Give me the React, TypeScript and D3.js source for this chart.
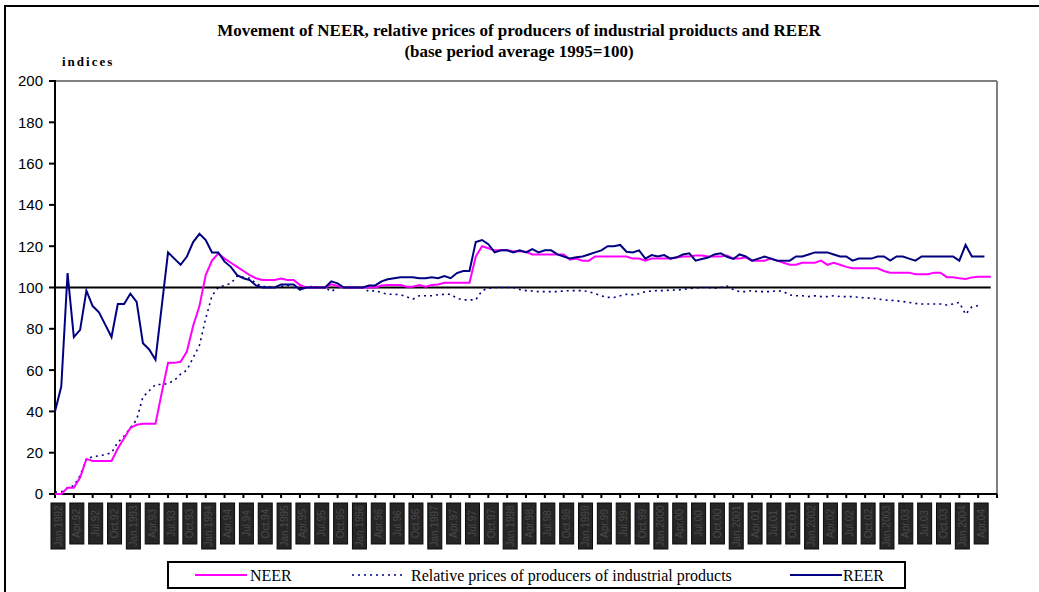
import React from 'react';
import * as d3 from 'd3';

// monthly data, Jan 1992 onwards (1995 average = 100)
const neer = [
  0, 0, 3, 3, 8, 17, 16, 16, 16, 16,
  22, 27, 32, 33.5, 34, 34, 34, 49, 63.5, 63.5,
  64, 69, 81.5, 91, 106, 113, 116.5, 114, 112, 110,
  108, 106, 104.5, 103.6, 103.6, 103.6, 104.4, 103.6, 103.6, 101.2,
  100, 100, 100, 100, 101.5, 100.7, 100, 100, 100, 100,
  100, 100, 101, 101.2, 101.2, 101.2, 100.4, 100.4, 101.2, 100.4,
  101.2, 101.5, 102.3, 102.3, 102.3, 102.3, 102.3, 115, 120, 119,
  118, 118, 118, 117.5, 117.5, 117.3, 116, 116, 116, 116,
  116, 116, 113.5, 114, 113, 113, 115, 115, 115, 115,
  115, 115, 114, 114, 113, 114, 114, 114, 114, 114.5,
  115, 115, 115.5, 115.5, 115, 115, 115, 115.5, 114, 114,
  114.5, 113, 113, 113, 114, 113, 112, 111, 111, 112,
  112, 112, 113, 111, 112, 111, 110, 109.3, 109.3, 109.3,
  109.3, 109.3, 108, 107.2, 107.2, 107.2, 107.2, 106.4, 106.4, 106.4,
  107.2, 107.2, 105, 105, 104.5, 104.1, 104.9, 105.2, 105.2, 105.2
];

const relPrices = [
  1, 1, 3, 4, 9, 17, 18, 18.5, 19, 20,
  25, 28, 32, 36, 47, 50, 53, 53, 53.5, 55,
  58, 60, 66, 72, 85, 96, 100, 101, 102, 105.5,
  105, 104.5, 102, 100.5, 100.5, 100, 100.5, 101, 100, 99,
  100, 100.5, 100, 100, 98, 100, 100, 100, 100, 100,
  98, 98.5, 97.5, 96.7, 96.7, 96.5, 95.5, 94.4, 96, 96,
  96, 96.5, 96.7, 96.7, 94.8, 94, 94, 94, 98.5, 99.6,
  100, 100, 100, 100, 99, 98.5, 98.3, 98, 98, 98,
  98, 98.3, 98.5, 98.5, 98.5, 98, 97, 96, 95.2, 95.2,
  96, 96.7, 96.5, 97, 98, 98.3, 98.5, 98.5, 98.7, 98.8,
  99, 99.4, 99.8, 100, 100, 99.6, 100, 100.7, 99, 98,
  98, 98.5, 98, 98, 98, 98.5, 98, 96.4, 96, 96,
  95.6, 96, 95.6, 95.6, 96, 95.6, 95.6, 95.6, 95.2, 95,
  94.8, 94.5, 94, 93.8, 93.6, 93.2, 92.8, 92.3, 92, 92,
  92, 92, 91.5, 92, 92.8, 87, 90.7, 91.2
];

const reer = [
  40, 52, 107, 76, 79.5, 98.5, 91, 88, 82, 76,
  92, 92, 97, 93, 73, 70, 65, 91, 117, 114,
  111, 115, 122, 126, 123, 117, 117, 112.5, 110, 106,
  104.5, 103.6, 101, 100, 100, 100, 101.5, 101.5, 101.5, 99,
  100, 100, 100, 100, 103, 102, 100, 100, 100, 100,
  101, 101, 103, 104, 104.5, 105, 105, 105, 104.5, 104.5,
  105, 104.5, 105.5, 104.5, 107, 108, 108, 122, 123, 121,
  117, 118, 118, 117, 118, 117, 118.6, 117, 118, 118,
  116, 115, 114, 114.6, 115, 116, 117, 118, 120, 120,
  120.6, 117.3, 117, 118, 114, 115.7, 115, 115.7, 114, 114.6,
  116, 116.6, 113, 113.8, 114.5, 116, 116.6, 114.9, 113.8, 116,
  115, 113, 114, 115, 114, 113, 113, 113, 115, 115,
  116, 117, 117, 117, 116, 115, 115, 113, 114, 114,
  114, 115, 115, 113, 115, 115, 114, 113, 115, 115,
  115, 115, 115, 115, 113, 120.6, 115, 115, 115
];

const yTicks = [0, 20, 40, 60, 80, 100, 120, 140, 160, 180, 200];
const quarterNames = ['Jan', 'Apr', 'Jul', 'Oct'];
const firstYear = 1992;
const labelCount = 50;

const W = 1039;
const H = 592;

export default function App() {
  const x = d3.scaleLinear().domain([0, 150]).range([55, 997]);
  const y = d3.scaleLinear().domain([0, 200]).range([494, 81]);

  const line = d3.line<number>()
    .x((d, i) => x(i))
    .y(d => y(d));

  const labels = d3.range(labelCount).map(k => {
    const year = firstYear + Math.floor(k / 4);
    const q = k % 4;
    return q === 0 ? `${quarterNames[q]}.${year}` : `${quarterNames[q]}.${String(year).slice(2)}`;
  });

  const sans = '"Liberation Sans", Arial, sans-serif';
  const serif = '"Liberation Serif", "Times New Roman", serif';

  return (
    <svg width={W} height={H} style={{ position: 'absolute', left: 0, top: 0 }}>
      <rect x={5} y={6} width={1040} height={600} fill="#fff" stroke="#000" strokeWidth={2} />

      <text x={519} y={36} textAnchor="middle" fontFamily={serif} fontWeight="bold" fontSize={17}>
        Movement of NEER, relative prices of producers of industrial proiducts and REER
      </text>
      <text x={519} y={57} textAnchor="middle" fontFamily={serif} fontWeight="bold" fontSize={17}>
        (base period average 1995=100)
      </text>
      <text x={62} y={66} fontFamily={serif} fontWeight="bold" fontSize={13} letterSpacing={2}>
        indices
      </text>

      {/* plot area frame */}
      <line x1={55} x2={997} y1={81} y2={81} stroke="#808080" strokeWidth={2} />
      <line x1={997} x2={997} y1={81} y2={494} stroke="#808080" strokeWidth={2} />

      {/* y axis */}
      <line x1={55} x2={55} y1={80} y2={495} stroke="#000" strokeWidth={2} />
      {yTicks.map(t => (
        <g key={t}>
          <line x1={49} x2={55} y1={y(t)} y2={y(t)} stroke="#000" strokeWidth={2} />
          <text x={43} y={y(t)} dy="0.36em" textAnchor="end" fontFamily={sans} fontSize={15}>{t}</text>
        </g>
      ))}

      {/* x axis */}
      <line x1={54} x2={997} y1={494} y2={494} stroke="#000" strokeWidth={2} />
      {d3.range(0, 151, 3).map(i => (
        <line key={i} x1={x(i)} x2={x(i)} y1={494} y2={498} stroke="#000" strokeWidth={2} />
      ))}
      {labels.map((lab, k) => {
        const cx = x(k * 3) + 3;
        const h = k % 4 === 0 ? 46 : 41;
        return (
          <g key={k}>
            <rect x={cx - 7} y={503} width={14} height={h} fill="#262626" stroke="#0a0a0a" strokeWidth={1} />
            <text
              transform={`translate(${cx},${503 + h / 2}) rotate(-90)`}
              textAnchor="middle"
              dy="0.35em"
              fontFamily={sans}
              fontSize={10}
              fill="#4a4a4a"
            >
              {lab}
            </text>
          </g>
        );
      })}

      {/* base line 100 */}
      <line x1={x(0)} x2={x(149)} y1={y(100)} y2={y(100)} stroke="#000" strokeWidth={2} />

      <path d={line(relPrices) || ''} fill="none" stroke="#000080" strokeWidth={1.6} strokeDasharray="2 4" />
      <path d={line(neer) || ''} fill="none" stroke="#ff00ff" strokeWidth={2} />
      <path d={line(reer) || ''} fill="none" stroke="#000080" strokeWidth={2} />

      {/* legend */}
      <rect x={168} y={562} width={737} height={26} fill="#fff" stroke="#000" strokeWidth={2} />
      <line x1={195} x2={247} y1={575} y2={575} stroke="#ff00ff" strokeWidth={2} />
      <text x={250} y={580.5} fontFamily={serif} fontSize={16}>NEER</text>
      <line x1={352} x2={406} y1={575} y2={575} stroke="#000080" strokeWidth={1.4} strokeDasharray="2 4" />
      <text x={411} y={580.5} fontFamily={serif} fontSize={16}>Relative prices of producers of industrial products</text>
      <line x1={790} x2={842} y1={575} y2={575} stroke="#000080" strokeWidth={2} />
      <text x={843} y={580.5} fontFamily={serif} fontSize={16}>REER</text>
    </svg>
  );
}
